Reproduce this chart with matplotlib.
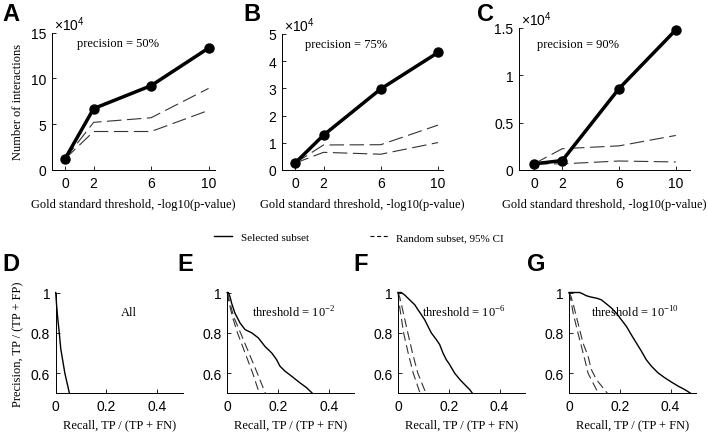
import numpy as np
import matplotlib.pyplot as plt
from matplotlib.lines import Line2D
from matplotlib.ticker import FuncFormatter

# Fonts: sans for ticks, serif (Times-like) for labels
plt.rcParams['font.family'] = ['Liberation Sans', 'DejaVu Sans']
plt.rcParams['mathtext.fontset'] = 'custom'
plt.rcParams['mathtext.rm'] = 'Liberation Serif'
plt.rcParams['mathtext.sf'] = 'Liberation Sans'
serif = ['Liberation Serif', 'DejaVu Serif']

# ---- Top row: number of interactions (in units of 10^4) ----
thresholds = [0, 2, 6, 10]

sel_A = [1.2, 6.7, 9.2, 13.3]
hi_A = [1.2, 5.2, 5.7, 8.9]
lo_A = [1.2, 4.2, 4.2, 6.5]

sel_B = [0.25, 1.28, 2.98, 4.32]
hi_B = [0.25, 0.92, 0.93, 1.65]
lo_B = [0.25, 0.65, 0.58, 1.01]

sel_C = [0.065, 0.10, 0.86, 1.48]
hi_C = [0.065, 0.225, 0.255, 0.365]
lo_C = [0.065, 0.065, 0.095, 0.085]

precisions = ['precision = 50%', 'precision = 75%', 'precision = 90%']

# ---- Bottom row: precision-recall curves ----
rec_D = [0, 0.004, 0.009, 0.014, 0.02, 0.036, 0.054]
prec_D = [1.0, 0.93, 0.86, 0.80, 0.72, 0.60, 0.50]

rec_E = [0, 0.004, 0.0105, 0.017, 0.030, 0.050, 0.070, 0.096, 0.122, 0.148, 0.175,
         0.194, 0.207, 0.227, 0.253, 0.286, 0.312, 0.335]
prec_E = [1.0, 1.0, 0.98, 0.947, 0.898, 0.849, 0.816, 0.80, 0.775, 0.733, 0.70,
          0.667, 0.635, 0.61, 0.585, 0.552, 0.528, 0.50]
rec_E_lo = [0, 0.005, 0.02, 0.04, 0.07, 0.10, 0.126]
prec_E_lo = [1.0, 0.96, 0.88, 0.80, 0.70, 0.60, 0.50]
rec_E_hi = [0, 0.008, 0.025, 0.052, 0.085, 0.118, 0.15]
prec_E_hi = [1.0, 0.96, 0.88, 0.80, 0.70, 0.60, 0.50]

rec_F = [0, 0.005, 0.013, 0.026, 0.039, 0.052, 0.066, 0.079, 0.092, 0.105, 0.118,
         0.131, 0.151, 0.164, 0.177, 0.19, 0.203, 0.223, 0.243, 0.262, 0.282, 0.293]
prec_F = [1.0, 1.0, 1.0, 0.988, 0.972, 0.956, 0.939, 0.914, 0.89, 0.865, 0.832,
          0.80, 0.766, 0.742, 0.70, 0.667, 0.643, 0.60, 0.569, 0.544, 0.519, 0.50]
rec_F_lo = [0, 0.004, 0.01, 0.022, 0.04, 0.06, 0.087]
prec_F_lo = [1.0, 0.95, 0.90, 0.80, 0.70, 0.60, 0.50]
rec_F_hi = [0, 0.006, 0.012, 0.035, 0.057, 0.078, 0.11]
prec_F_hi = [1.0, 0.98, 0.95, 0.82, 0.70, 0.60, 0.50]

rec_G = [0, 0.009, 0.042, 0.055, 0.068, 0.088, 0.108, 0.127, 0.147, 0.167, 0.186,
         0.206, 0.226, 0.245, 0.265, 0.285, 0.304, 0.324, 0.35, 0.377, 0.403, 0.429,
         0.455, 0.479]
prec_G = [1.0, 1.0, 1.0, 0.993, 0.984, 0.977, 0.972, 0.964, 0.944, 0.923, 0.898,
          0.865, 0.832, 0.791, 0.75, 0.709, 0.667, 0.635, 0.602, 0.577, 0.556, 0.536,
          0.519, 0.50]
rec_G_lo = [0, 0.008, 0.016, 0.022, 0.035, 0.048, 0.062, 0.075, 0.101, 0.116]
prec_G_lo = [1.0, 0.96, 0.90, 0.868, 0.80, 0.737, 0.668, 0.60, 0.535, 0.50]
rec_G_hi = [0, 0.008, 0.016, 0.029, 0.042, 0.055, 0.075, 0.088, 0.108, 0.134, 0.151]
prec_G_hi = [1.0, 0.98, 0.947, 0.88, 0.816, 0.75, 0.684, 0.618, 0.568, 0.527, 0.50]

thresh_labels = ['All', 'threshold = 10$^{\\mathrm{-2}}$',
                 'threshold = 10$^{\\mathrm{-6}}$', 'threshold = 10$^{\\mathrm{-10}}$']

W, H = 708, 435
fig = plt.figure(figsize=(W / 100, H / 100), dpi=100)
fig.set_facecolor('white')


def px_axes(l, t, r, b):
    return fig.add_axes([l / W, 1 - b / H, (r - l) / W, (b - t) / H])


def style(ax):
    ax.spines['top'].set_visible(False)
    ax.spines['right'].set_visible(False)
    for s in ['left', 'bottom']:
        ax.spines[s].set_linewidth(0.7)
    ax.tick_params(direction='in', length=3, width=0.6, labelsize=10, pad=4)


fmt = FuncFormatter(lambda v, p: '%g' % v)

# top row
top_boxes = [(52, 33.5, 215, 171), (282, 35, 443, 171), (519, 29, 690, 171)]
top_xlims = [(-0.9, 10.45), (-0.9, 10.35), (-1.05, 11)]
top_ylims = [(0, 15), (0, 5), (0, 1.5)]
top_yticks = [[0, 5, 10, 15], [0, 1, 2, 3, 4, 5], [0, 0.5, 1, 1.5]]
top_text_pos = [(3.7, 13.9), (3.57, 4.63), (3.13, 1.33)]
top_data = [(sel_A, hi_A, lo_A), (sel_B, hi_B, lo_B), (sel_C, hi_C, lo_C)]

for i in range(3):
    ax = px_axes(*top_boxes[i])
    style(ax)
    sel, hi, lo = top_data[i]
    ax.plot(thresholds, hi, color='#333333', lw=0.8, ls=(0, (13, 5)))
    ax.plot(thresholds, lo, color='#333333', lw=0.8, ls=(0, (13, 5)))
    ax.plot(thresholds, sel, color='black', lw=2.5, marker='o', ms=6.5, clip_on=False)
    ax.set_xlim(*top_xlims[i])
    ax.set_ylim(*top_ylims[i])
    ax.set_xticks(thresholds)
    ax.set_yticks(top_yticks[i])
    ax.yaxis.set_major_formatter(fmt)
    ax.text(*top_text_pos[i], precisions[i], ha='center', va='center',
            fontsize=9, family=serif)
    ax.text(0.01, 1.0, '×10$^{\\mathsf{4}}$', transform=ax.transAxes,
            ha='left', va='bottom', fontsize=10)
    ax.set_xlabel('Gold standard threshold, -log10(p-value)', family=serif,
                  fontsize=9, labelpad=6)
    if i == 0:
        ax.set_ylabel('Number of interactions', family=serif, fontsize=9, labelpad=5)

# bottom row
bot_boxes = [(55.7, 293.5, 182.7, 394.3), (227.3, 293.5, 354.3, 394.3),
             (398, 293.5, 525, 394.3), (569, 293.5, 696, 394.3)]
curves = [(rec_D, prec_D, []),
          (rec_E, prec_E, [(rec_E_lo, prec_E_lo), (rec_E_hi, prec_E_hi)]),
          (rec_F, prec_F, [(rec_F_lo, prec_F_lo), (rec_F_hi, prec_F_hi)]),
          (rec_G, prec_G, [(rec_G_lo, prec_G_lo), (rec_G_hi, prec_G_hi)])]
text_x = [0.29, 0.26, 0.26, 0.26]

for i in range(4):
    ax = px_axes(*bot_boxes[i])
    style(ax)
    rec, prec, rand = curves[i]
    for rr, pp in rand:
        ax.plot(rr, pp, color='#333333', lw=0.8, ls=(0, (8, 4)), clip_on=False)
    ax.plot(rec, prec, color='black', lw=1.0, clip_on=False)
    ax.set_xlim(0, 0.5)
    ax.set_ylim(0.5, 1)
    ax.set_xticks([0, 0.2, 0.4])
    ax.set_yticks([0.6, 0.8, 1])
    ax.xaxis.set_major_formatter(fmt)
    ax.yaxis.set_major_formatter(fmt)
    ax.text(text_x[i], 0.905, thresh_labels[i], ha='center', va='center',
            fontsize=9, family=serif)
    ax.set_xlabel('Recall, TP / (TP + FN)', family=serif, fontsize=9, labelpad=4)
    if i == 0:
        ax.set_ylabel('Precision, TP / (TP + FP)', family=serif, fontsize=9, labelpad=5)

# panel letters
letters = ['A', 'B', 'C', 'D', 'E', 'F', 'G']
letter_px = [(2, 3), (243, 3), (477, 3), (2, 253), (177, 253), (353, 253), (527, 253)]
for lab, (x, y) in zip(letters, letter_px):
    fig.text(x / W, 1 - y / H, lab, ha='left', va='top', fontsize=17, weight='bold')

# legend
handles = [Line2D([], [], color='black', lw=1.0),
           Line2D([], [], color='black', lw=0.8, ls=(0, (3.5, 2.5)))]
fig.legend(handles, ['Selected subset', 'Random subset, 95% CI'], loc='center',
           bbox_to_anchor=(359 / W, 1 - 238 / H), ncol=2, frameon=False,
           prop={'family': serif, 'size': 8}, handlelength=1.6,
           handletextpad=0.8, columnspacing=5.5)

fig.savefig('out.png', dpi=100, facecolor='white')
